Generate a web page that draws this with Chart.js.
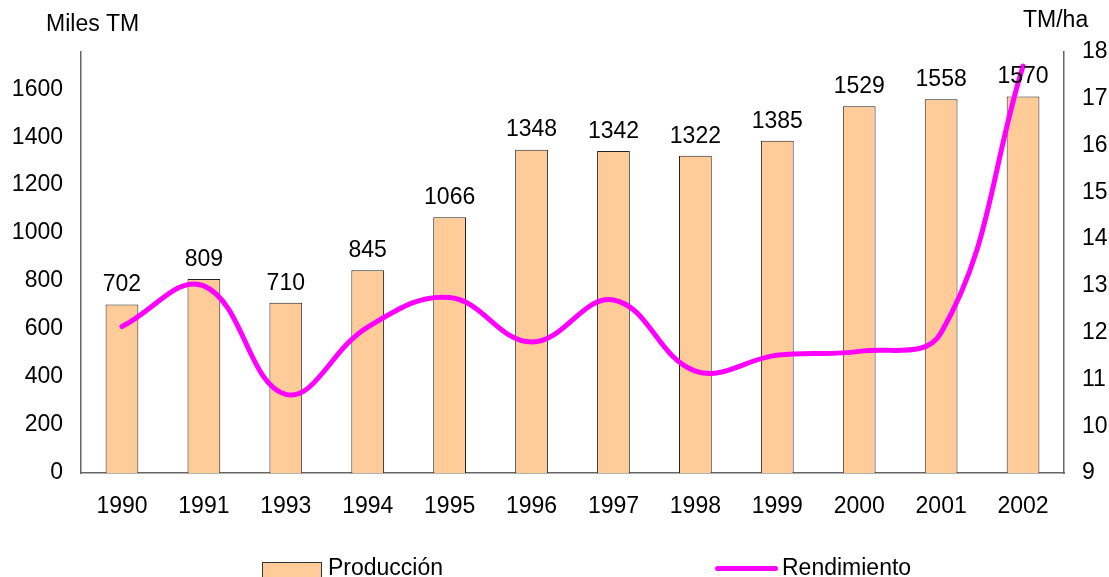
<!DOCTYPE html>
<html>
<head>
<meta charset="utf-8">
<script src="https://cdn.jsdelivr.net/npm/chart.js@4/dist/chart.umd.min.js"></script>
<style>
  html, body { margin: 0; padding: 0; background: #fff; }
  #wrap { position: relative; width: 1109px; height: 577px; overflow: hidden; font-family: "Liberation Sans", Arial, sans-serif; }
  #chart { position: absolute; left: 0; top: 0; }
  .legend { position: absolute; top: 556px; font-size: 23px; color: #000; line-height: 23px; }
  .legend .box { display: inline-block; width: 58px; height: 16px; background: #FFCC99; border: 1px solid #333; vertical-align: top; margin-top: 6px; margin-right: 6px; }
  .legend .ln { display: inline-block; width: 63px; height: 5px; background: #FF00FF; vertical-align: top; margin-top: 10px; margin-right: 4px; border-radius: 3px; }
</style>
</head>
<body>
<div id="wrap">
  <canvas id="chart" width="1109" height="577"></canvas>
  <div class="legend" style="left:262px"><span class="box"></span>Producción</div>
  <div class="legend" style="left:715px"><span class="ln"></span>Rendimiento</div>
</div>
<script>
// datos
const years = ['1990', '1991', '1993', '1994', '1995', '1996', '1997', '1998', '1999', '2000', '2001', '2002'];
const produccion = [702, 809, 710, 845, 1066, 1348, 1342, 1322, 1385, 1529, 1558, 1570];
const rendimiento = [12.13, 13.0, 10.68, 12.12, 12.75, 11.8, 12.7, 11.18, 11.52, 11.6, 12.0, 17.7];
const leftTicks = [0, 200, 400, 600, 800, 1000, 1200, 1400, 1600];
const rightTicks = [9, 10, 11, 12, 13, 14, 15, 16, 17, 18];

const FONT = 'Liberation Sans, Arial, sans-serif';

// etiquetas encima de las barras + titulos de ejes
const extras = {
    id: 'extras',
    afterDatasetsDraw(chart) {
        const ctx = chart.ctx;
        const meta = chart.getDatasetMeta(0);
        ctx.save();
        ctx.fillStyle = '#000';
        ctx.font = '23px ' + FONT;
        ctx.textAlign = 'center';
        ctx.textBaseline = 'bottom';
        meta.data.forEach((bar, i) => {
            ctx.fillText(String(produccion[i]), bar.x, bar.y - 8);
        });
        ctx.textBaseline = 'middle';
        ctx.textAlign = 'left';
        ctx.fillText('Miles TM', 46, 25);
        ctx.fillText('TM/ha', 1023, 21);
        ctx.restore();
    }
};

const ctx = document.getElementById('chart').getContext('2d');
const chart = new Chart(ctx, {
    type: 'bar',
    data: {
        labels: years,
        datasets: [{
            label: 'Producción',
            data: produccion,
            backgroundColor: '#FFCC99',
            borderColor: '#222222',
            borderWidth: 1,
            barPercentage: 0.4,
            categoryPercentage: 1,
            yAxisID: 'y',
            order: 2
        }, {
            type: 'line',
            label: 'Rendimiento',
            data: rendimiento,
            borderColor: '#FF00FF',
            borderWidth: 5,
            borderCapStyle: 'round',
            pointRadius: 0,
            tension: 0.4,
            yAxisID: 'y1',
            order: 1
        }]
    },
    options: {
        responsive: false,
        animation: false,
        layout: { padding: { top: 52, left: 0, right: 0, bottom: 0 } },
        plugins: {
            legend: { display: false },
            tooltip: { enabled: false }
        },
        scales: {
            x: {
                grid: { display: false, drawTicks: false },
                border: { display: true, color: '#666', width: 1.5 },
                ticks: { color: '#000', font: { size: 23, family: FONT }, padding: 20, maxRotation: 0 },
                afterFit(s) { s.height = 104; }
            },
            y: {
                position: 'left',
                min: 0,
                max: 1755,
                afterBuildTicks(s) { s.ticks = leftTicks.map(v => ({ value: v })); },
                grid: { display: false, drawTicks: false },
                border: { display: true, color: '#666', width: 1.5 },
                ticks: { color: '#000', font: { size: 23, family: FONT }, padding: 18, callback: v => String(v) },
                afterFit(s) { s.width = 81; }
            },
            y1: {
                position: 'right',
                min: 9,
                max: 18,
                afterBuildTicks(s) { s.ticks = rightTicks.map(v => ({ value: v })); },
                grid: { display: false, drawTicks: false },
                border: { display: true, color: '#666', width: 1.5 },
                ticks: { color: '#000', font: { size: 23, family: FONT }, padding: 18, callback: v => String(v) },
                afterFit(s) { s.width = 45; }
            }
        }
    },
    plugins: [extras]
});
</script>
</body>
</html>
